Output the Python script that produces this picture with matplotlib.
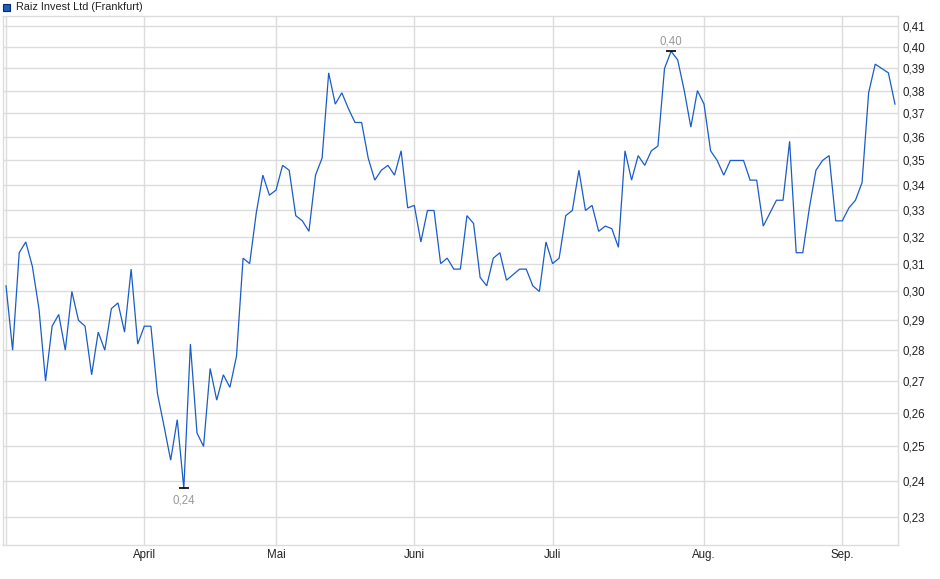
import numpy as np
import matplotlib
matplotlib.use('Agg')
import matplotlib.pyplot as plt
from matplotlib.patches import Rectangle
from matplotlib.ticker import FixedLocator, FuncFormatter, NullLocator

plt.rcParams['font.family'] = ['Liberation Sans', 'DejaVu Sans']

# Kursverlauf (ein Wert pro Handelstag)
kurse = [
    0.302, 0.280, 0.314, 0.318, 0.309, 0.294, 0.270, 0.288, 0.292, 0.280,
    0.300, 0.290, 0.288, 0.272, 0.286, 0.280, 0.294, 0.296, 0.286, 0.308,
    0.282, 0.288, 0.288, 0.266, 0.256, 0.246, 0.258, 0.238, 0.282, 0.254,
    0.250, 0.274, 0.264, 0.272, 0.268, 0.278, 0.312, 0.310, 0.329, 0.344,
    0.336, 0.338, 0.348, 0.346, 0.328, 0.326, 0.322, 0.344, 0.351, 0.388,
    0.374, 0.379, 0.372, 0.366, 0.366, 0.351, 0.342, 0.346, 0.348, 0.344,
    0.354, 0.331, 0.332, 0.318, 0.330, 0.330, 0.310, 0.312, 0.308, 0.308,
    0.328, 0.325, 0.305, 0.302, 0.312, 0.314, 0.304, 0.306, 0.308, 0.308,
    0.302, 0.300, 0.318, 0.310, 0.312, 0.328, 0.330, 0.346, 0.330, 0.332,
    0.322, 0.324, 0.323, 0.316, 0.354, 0.342, 0.352, 0.348, 0.354, 0.356,
    0.390, 0.398, 0.394, 0.380, 0.364, 0.380, 0.374, 0.354, 0.350, 0.344,
    0.350, 0.350, 0.350, 0.342, 0.342, 0.324, 0.329, 0.334, 0.334, 0.358,
    0.314, 0.314, 0.331, 0.346, 0.350, 0.352, 0.326, 0.326, 0.331, 0.334,
    0.341, 0.379, 0.392, 0.390, 0.388, 0.374,
]
monate = ['', 'April', 'Mai', 'Juni', 'Juli', 'Aug.', 'Sep.']
monat_start = [0, 21, 41, 62, 83, 106, 127]
y_ticks = [0.23, 0.24, 0.25, 0.26, 0.27, 0.28, 0.29, 0.30, 0.31,
           0.32, 0.33, 0.34, 0.35, 0.36, 0.37, 0.38, 0.39, 0.40, 0.41]
titel = 'Raiz Invest Ltd (Frankfurt)'

blau = '#1a5cc8'
grid_col = '#dcdcdc'

fig = plt.figure(figsize=(9.4, 5.79), dpi=100)
ax = fig.add_axes([3 / 940, 1 - 545.3 / 579, 895 / 940, 529.3 / 579])

x = np.arange(len(kurse))
y = np.array(kurse)
ax.plot(x, y, color=blau, lw=0.9, solid_joinstyle='miter')

ax.set_yscale('log')
ax.set_xlim(-0.46, len(kurse) - 1 + 0.46)
ax.set_ylim(0.22255, 0.41485)

ax.yaxis.set_major_locator(FixedLocator(y_ticks))
ax.yaxis.set_minor_locator(NullLocator())
ax.yaxis.set_major_formatter(FuncFormatter(lambda v, p: f'{v:.2f}'.replace('.', ',')))
ax.yaxis.tick_right()
ax.set_xticks(monat_start)
ax.set_xticklabels(monate)
ax.tick_params(axis='both', length=0, labelsize=8.3, colors='#222222')
ax.tick_params(axis='y', pad=3)
ax.tick_params(axis='x', pad=3)
ax.grid(True, color=grid_col, lw=1)
ax.set_axisbelow(True)
for s in ax.spines.values():
    s.set_color(grid_col)
    s.set_linewidth(1)

# Hoch / Tief markieren
i_min = int(np.argmin(y))
i_max = int(np.argmax(y))
ax.plot([i_min, i_max], [y[i_min], y[i_max]], ls='none', marker='_',
        ms=7, mew=1.2, color='black')
ax.annotate(f'{round(y[i_min], 2):.2f}'.replace('.', ','), (i_min, y[i_min]),
            xytext=(0, -8.5), textcoords='offset points', ha='center', va='center',
            fontsize=8.3, color='#999999')
ax.annotate(f'{round(y[i_max], 2):.2f}'.replace('.', ','), (i_max, y[i_max]),
            xytext=(0, 7), textcoords='offset points', ha='center', va='center',
            fontsize=8.3, color='#999999')

# Legende oben links
fig.add_artist(Rectangle((3 / 940, 1 - 11 / 579), 7 / 940, 7 / 579,
                         facecolor=blau, edgecolor='#0a2a66', lw=0.8,
                         transform=fig.transFigure))
fig.text(16 / 940, 1 - 7 / 579, titel, fontsize=7.8, va='center', ha='left',
         color='#222222')

fig.savefig('out.png', dpi=100)
